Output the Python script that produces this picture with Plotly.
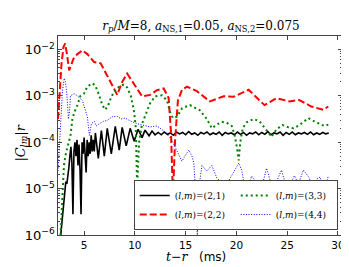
import numpy as np
import plotly.graph_objects as go

# ---------------- data (log10 of |C_lm| r versus t-r in ms) ----------------
t21 = [2.7, 2.8, 2.9, 3.0, 3.1, 3.2, 3.3, 3.4, 3.5, 3.6, 3.7, 3.8, 3.9, 4.0, 4.1, 4.2, 4.3, 4.4,
       4.5, 4.6, 4.7, 4.8, 4.9, 5.0, 5.1, 5.2, 5.3, 5.4, 5.5, 5.6, 5.7, 5.8, 5.9, 6.0,
       6.11, 6.40, 6.70, 6.99, 7.28, 7.68, 8.07, 8.46, 8.75, 9.15, 9.54, 9.93, 10.32, 10.71,
       11.0, 11.4, 11.69, 11.99,
       12.3, 12.6, 12.9, 13.2, 13.5, 13.8, 14.1, 14.4, 14.7, 15.0, 15.3, 15.6, 15.9, 16.2,
       16.5, 16.8, 17.1, 17.4, 17.7, 18.0, 18.3, 18.6, 18.9, 19.2, 19.5, 19.8, 20.1, 20.4,
       20.7, 21.0, 21.3, 21.6, 21.9, 22.2, 22.5, 22.8, 23.1, 23.4, 23.7, 24.0, 24.3, 24.6,
       24.9, 25.2, 25.5, 25.8, 26.1, 26.4, 26.7, 27.0, 27.3, 27.6, 27.9, 28.2, 28.5, 28.8, 29.1]
lg21 = [-6.0, -5.75, -5.6, -5.35, -5.0, -4.85, -4.9, -4.75, -4.55, -4.3, -4.1, -4.45, -5.55,
        -4.2, -4.0, -4.3, -3.95, -4.5, -4.05, -4.6, -5.55, -4.0, -4.25, -3.9, -4.25, -4.65,
        -3.95, -4.3, -4.0, -4.25, -3.85, -4.2, -3.95, -4.2,
        -3.8, -4.35, -3.75, -4.3, -3.7, -4.25, -3.66, -4.17, -3.68, -4.08, -3.7, -3.98,
        -3.72, -3.9, -3.74, -3.86, -3.76, -3.84,
        -3.79, -3.84, -3.78, -3.83, -3.8, -3.85, -3.78, -3.82, -3.79, -3.84, -3.77, -3.83,
        -3.8, -3.85, -3.79, -3.82, -3.78, -3.84, -3.8, -3.83, -3.78, -3.85, -3.79, -3.82,
        -3.8, -3.84, -3.78, -3.83, -3.79, -3.85, -3.8, -3.82, -3.78, -3.84, -3.79, -3.83,
        -3.77, -3.84, -3.8, -3.82, -3.78, -3.85, -3.79, -3.83, -3.78, -3.84, -3.8, -3.82,
        -3.79, -3.83, -3.78, -3.84, -3.8, -3.83, -3.79, -3.82, -3.8]

t22 = [2.43, 2.58, 2.78, 2.97, 3.14, 3.31, 3.53, 3.71, 3.95, 4.34, 4.83, 5.32, 5.98, 6.63,
       7.28, 7.77, 8.26, 8.75, 9.24, 10.03, 10.71, 11.5, 12.18, 12.84, 13.33, 13.56, 13.75,
       13.95, 14.24, 14.64, 15.13, 16.11, 17.38, 18.75, 19.73, 21.2, 22.77, 23.95, 25.23,
       26.2, 27.38, 28.56, 29.05]
lg22 = [-3.5, -3.0, -2.3, -1.95, -1.87, -2.1, -2.45, -2.35, -2.2, -2.1, -2.02, -2.1, -2.27,
        -2.3, -2.55, -2.77, -2.98, -2.7, -2.52, -2.77, -3.01, -2.98, -2.88, -2.84, -3.05,
        -3.8, -5.16, -4.0, -3.1, -2.87, -2.8, -2.9, -3.12, -3.01, -3.02, -2.87, -3.2, -3.05,
        -3.12, -3.09, -3.23, -3.3, -3.23]

t33 = [2.68, 2.77, 2.87, 3.02, 3.17, 3.36, 3.66, 3.85, 4.05, 4.34, 4.64, 5.0, 5.32, 5.82,
       6.11, 6.47, 6.8, 7.09, 7.38, 7.68, 8.07, 8.56, 8.9, 9.24, 9.6, 9.9, 10.1, 10.22,
       10.42, 10.71, 11.2, 11.5, 11.99, 12.67, 13.17, 13.46, 13.75, 14.15, 14.64, 15.42,
       16.4, 17.09, 17.58, 18.07, 18.56, 19.05, 19.54, 19.83, 20.08, 20.23, 20.38, 20.62,
       21.01, 21.7, 22.28, 22.97, 23.46, 23.95, 24.54, 25.13, 25.62, 26.2, 27.09, 27.68,
       28.17, 28.66, 29.05]
lg33 = [-6.0, -5.6, -4.9, -4.5, -4.28, -4.1, -3.85, -3.5, -3.35, -3.2, -3.0, -2.95, -2.8,
        -2.73, -2.78, -2.98, -3.2, -3.3, -3.2, -3.02, -2.88, -2.78, -2.76, -2.82, -3.0, -3.3,
        -3.7, -4.95, -4.0, -3.6, -3.33, -3.16, -3.01, -2.99, -3.1, -3.35, -3.48, -3.45,
        -3.27, -3.2, -3.31, -3.5, -3.7, -3.62, -3.56, -3.58, -3.65, -3.85, -4.15, -4.39,
        -4.0, -3.7, -3.57, -3.5, -3.55, -3.75, -3.88, -3.72, -3.63, -3.68, -3.7, -3.63,
        -3.48, -3.55, -3.6, -3.65, -3.62]

t44 = [2.43, 2.58, 2.72, 2.87, 3.04, 3.17, 3.31, 3.46, 3.56, 3.66, 4.02, 4.34, 4.83, 5.12,
       5.32, 5.52, 5.72, 6.01, 6.2, 6.5, 6.9, 7.28, 7.77, 8.26, 8.65, 9.04, 9.63, 10.22,
       10.81, 11.5, 12.18, 12.87, 13.46, 13.75, 14.15, 14.64, 14.93, 15.32, 15.62, 15.81,
       16.01, 16.15, 16.3, 16.6, 17.09, 17.58, 18.07, 18.46, 18.75, 19.05, 19.54, 20.23,
       20.52, 20.81, 21.01, 21.3, 21.5, 22.0, 22.28, 22.58, 22.97, 23.46, 23.76, 24.05,
       24.44, 24.83, 25.13, 25.42, 25.72, 26.1, 26.6, 27.19, 27.58, 27.87, 28.26, 28.56,
       28.85, 29.05]
lg44 = [-4.62, -4.0, -3.4, -2.9, -2.62, -2.7, -3.0, -3.5, -3.35, -3.0, -2.95, -3.0, -3.1,
        -3.3, -3.45, -3.85, -3.6, -3.55, -3.65, -3.6, -3.55, -3.53, -3.45, -3.44, -3.5, -3.48,
        -3.55, -3.6, -3.63, -3.67, -3.65, -3.76, -3.9, -4.0, -4.19, -4.41, -4.3, -4.17, -4.3,
        -4.45, -5.2, -6.0, -5.0, -4.5, -4.62, -4.5, -4.77, -4.85, -5.2, -4.9, -4.72, -4.45,
        -4.6, -5.0, -5.2, -4.85, -4.73, -4.88, -5.2, -4.9, -4.56, -4.92, -5.2, -4.8, -4.6,
        -4.9, -5.2, -4.85, -4.72, -4.9, -4.6, -4.77, -5.2, -4.8, -4.75, -5.1, -4.85, -4.73]

labels = ["(<i>l</i>,<i>m</i>)=(2,1)", "(<i>l</i>,<i>m</i>)=(2,2)",
          "(<i>l</i>,<i>m</i>)=(3,3)", "(<i>l</i>,<i>m</i>)=(4,4)"]
x_ticks = [5, 10, 15, 20, 25, 30]

fig = go.Figure()
fig.add_trace(go.Scatter(x=t21, y=np.power(10.0, lg21), mode="lines", name=labels[0],
                         line=dict(color="black", width=1.6), legendrank=1))
fig.add_trace(go.Scatter(x=t22, y=np.power(10.0, lg22), mode="lines", name=labels[1],
                         line=dict(color="#ff0000", width=2, dash="7px,3px"), legendrank=3))
fig.add_trace(go.Scatter(x=t33, y=np.power(10.0, lg33), mode="lines", name=labels[2],
                         line=dict(color="#008000", width=2, dash="2px,3px"), legendrank=2))
fig.add_trace(go.Scatter(x=t44, y=np.power(10.0, lg44), mode="lines", name=labels[3],
                         line=dict(color="#0000ff", width=1, dash="1px,1.6px"), legendrank=4))

axcol = "#444444"
fig.update_layout(
    width=349, height=267,
    margin=dict(l=50, r=13, t=28, b=40),
    plot_bgcolor="white", paper_bgcolor="white",
    showlegend=True,
    font=dict(family="DejaVu Sans", size=10, color="black"),
    title=dict(
        text="<i>r<sub>p</sub></i>/<i>M</i>=8, <i>a</i><sub>NS,1</sub>=0.05, "
             "<i>a</i><sub>NS,2</sub>=0.075",
        x=0.553, xanchor="center", y=0.935, yanchor="middle",
        font=dict(family="DejaVu Serif", size=12)),
    legend=dict(
        orientation="h", x=0.985, xanchor="right", y=0.025, yanchor="bottom",
        bgcolor="white", bordercolor=axcol, borderwidth=1,
        entrywidth=56, entrywidthmode="pixels",
        font=dict(family="DejaVu Serif", size=9),
        itemwidth=30, tracegroupgap=0),
    xaxis=dict(range=[2.43, 30.4], tickvals=x_ticks, ticks="inside", ticklen=4,
               showline=True, linecolor=axcol, linewidth=1, mirror="ticks",
               showgrid=False, zeroline=False, tickfont=dict(size=10.5)),
    yaxis=dict(type="log", range=[-6, -1.71], dtick=1, exponentformat="power",
               ticks="inside", ticklen=4, showline=True, linecolor=axcol, linewidth=1,
               mirror="ticks", showgrid=False, zeroline=False, tickfont=dict(size=10.5),
               minor=dict(ticks="inside", ticklen=2, tickcolor=axcol, showgrid=False)),
    annotations=[
        dict(text="|<i>C<sub>lm</sub></i>|<i>r</i>", xref="paper", yref="paper",
             x=-0.13, xanchor="center", y=0.46, yanchor="middle", textangle=-90,
             showarrow=False, font=dict(family="DejaVu Serif", size=13)),
        dict(text="t\u2212r", xref="paper", yref="paper",
             x=0.465, xanchor="right", y=-0.11, yanchor="middle",
             showarrow=False, font=dict(family="DejaVu Serif", size=12.5, style="italic")),
        dict(text="(ms)", xref="paper", yref="paper",
             x=0.49, xanchor="left", y=-0.11, yanchor="middle",
             showarrow=False, font=dict(family="DejaVu Sans", size=12)),
    ],
)

fig.write_html("out.html")
